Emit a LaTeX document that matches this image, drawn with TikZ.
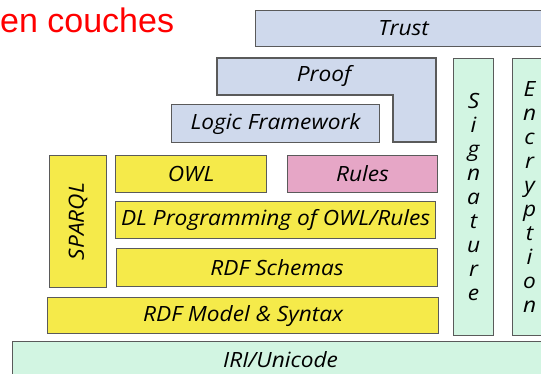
\documentclass[tikz,border=0pt]{standalone}
\usepackage{fontspec}
\setmainfont{Liberation Sans}
\newfontfamily\layerfont{Open Sans}[FakeStretch=1.08]
\usetikzlibrary{positioning,shapes}
\definecolor{layerblue}{HTML}{CFD9EC}
\definecolor{layergreen}{HTML}{D2F5E2}
\definecolor{layeryellow}{HTML}{F5EA4A}
\definecolor{layerpink}{HTML}{E6A6C6}
\definecolor{layerline}{HTML}{5A5A5A}
\tikzset{
    %Define style for the layer boxes
    layer/.style={
   	rectangle,
   	draw=layerline, line width=1.2pt,
   	inner sep=0pt,
   	anchor=north west,
   	font=\layerfont\itshape\fontsize{21}{24}\selectfont,
   	text centered
   },
   semweb/.style={layer, fill=layeryellow},
   logic/.style={layer, fill=layerblue},
   rules/.style={layer, fill=layerpink},
   crypto/.style={layer, fill=layergreen, align=center},
   %Define style for the title
   heading/.style={
   	anchor=base west,
   	inner sep=0pt,
   	text=red,
   	font=\fontsize{34}{40}\selectfont
   }
}
\begin{document}
\begin{tikzpicture}[x=1pt,y=-1pt]
		\useasboundingbox (0,0) rectangle (541,374);
		\node[heading](title) at (0,33){en couches};
		% upper layers
		\node[logic, minimum width=296pt, minimum height=36pt](trust) at (255,10){Trust};
		\draw[draw=layerline, line width=1.2pt, fill=layerblue]
		(217,58) -- (436,58) -- (436,142) -- (393,142) -- (393,95) -- (217,95) -- cycle;
		\node[font=\layerfont\itshape\fontsize{21}{24}\selectfont](proof) at (324,76){Proof};
		\node[logic, minimum width=208pt, minimum height=38pt](logicfw) at (171,104){Logic Framework};
		% side columns
		\node[crypto, minimum width=40pt, minimum height=277pt](sig) at (453,58){S\\i\\g\\n\\a\\t\\u\\r\\e};
		\node[crypto, minimum width=34pt, minimum height=277pt](enc) at (512,58){E\\n\\c\\r\\y\\p\\t\\i\\o\\n};
		% yellow stack
		\node[semweb, minimum width=57pt, minimum height=132pt](sparql) at (49,155){};
		\node[rotate=90, font=\layerfont\itshape\fontsize{21}{24}\selectfont] at (sparql.center){SPARQL};
		\node[semweb, minimum width=151pt, minimum height=37pt](owl) at (115,155){OWL};
		\node[rules, minimum width=150pt, minimum height=37pt](rules) at (287,155){Rules};
		\node[semweb, minimum width=320pt, minimum height=37pt](dlp) at (115,201){DL Programming of OWL/Rules};
		\node[semweb, minimum width=321pt, minimum height=38pt](rdfs) at (116,248){RDF Schemas};
		\node[semweb, minimum width=391pt, minimum height=36pt](rdf) at (47,297){RDF Model \& Syntax};
		\node[crypto, minimum width=536pt, minimum height=36pt](iri) at (12,341){IRI/Unicode};
\end{tikzpicture}
\end{document}
